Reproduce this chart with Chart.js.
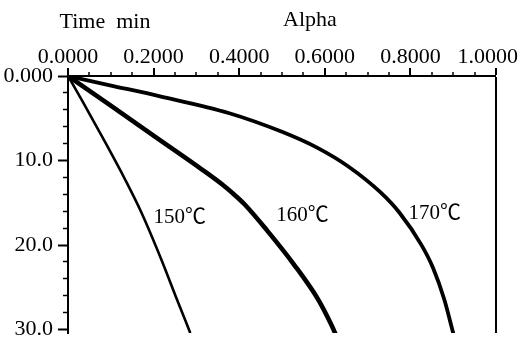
<!DOCTYPE html>
<html>
<head>
<meta charset="utf-8">
<script src="https://cdn.jsdelivr.net/npm/chart.js@4.4.1/dist/chart.umd.min.js"></script>
<style>
  html, body { margin: 0; padding: 0; background: #fff; }
  #wrap { width: 519px; height: 343px; }
</style>
</head>
<body>
<div id="wrap"><canvas id="c" width="519" height="343"></canvas></div>
<script>
// ---- data ----
const seriesNames = ['150℃', '160℃', '170℃'];

const time150  = [0, 3.0, 7.2, 12.3, 16.2, 21.7, 26.1, 30.3];
const alpha150 = [0, 0.034, 0.080, 0.134, 0.172, 0.218, 0.252, 0.285];

const time160  = [0, 3.5, 7.2, 11.1, 12.9, 14.1, 15.2, 18.2, 22.3, 26.4, 29.4, 30.4];
const alpha160 = [0, 0.100, 0.204, 0.314, 0.362, 0.390, 0.413, 0.464, 0.528, 0.584, 0.615, 0.624];

const time170  = [0, 1.1, 2.4, 4.4, 6.6, 8.5, 10.7, 13.8, 16.2, 20.0, 22.7, 26.4, 30.4];
const alpha170 = [0, 0.098, 0.215, 0.377, 0.500, 0.583, 0.655, 0.731, 0.775, 0.826, 0.853, 0.879, 0.900];

// curve label anchors (alpha, time)
const labelAlpha = [0.261, 0.548, 0.857];
const labelTime  = [16.7, 16.5, 16.3];

// axis tick labels
const xMajorTicks = [0, 0.2, 0.4, 0.6, 0.8, 1.0];
const xTickLabels = ['0.0000', '0.2000', '0.4000', '0.6000', '0.8000', '1.0000   '];
const yMajorTicks = [0, 10, 20, 30];
const yTickLabels = ['0.000', '10.0', '20.0', '30.0'];

const xTitle = 'Alpha';
const yTitle = 'Time  min';

// ---- build ----
const toPts = (a, t) => a.map((v, i) => ({ x: v, y: t[i] }));
const FONT = "'Liberation Serif', 'Noto Sans CJK JP', serif";
const FS = 22;

function majorIndex(list, v) {
  for (let i = 0; i < list.length; i++) if (Math.abs(list[i] - v) < 1e-6) return i;
  return -1;
}

const textPlugin = {
  id: 'texts',
  afterDraw(chart) {
    const ctx = chart.ctx;
    const xs = chart.scales.x, ys = chart.scales.y;
    ctx.save();
    ctx.fillStyle = '#000';
    ctx.font = (FS - 1) + 'px ' + FONT;
    ctx.textAlign = 'center';
    ctx.textBaseline = 'middle';
    for (let i = 0; i < seriesNames.length; i++) {
      ctx.fillText(seriesNames[i], xs.getPixelForValue(labelAlpha[i]), ys.getPixelForValue(labelTime[i]));
    }
    // axis titles
    ctx.font = FS + 'px ' + FONT;
    ctx.fillText(yTitle, 105, 22);
    ctx.fillText(xTitle, 310, 20);
    ctx.restore();
  }
};

const minorDash = (tl, minor) => (c) =>
  (c.tick && c.tick.major) ? [] : [minor, tl - minor];

new Chart(document.getElementById('c'), {
  type: 'line',
  data: {
    datasets: [
      { label: seriesNames[0], data: toPts(alpha150, time150), borderColor: '#000', borderWidth: 2.6 },
      { label: seriesNames[1], data: toPts(alpha160, time160), borderColor: '#000', borderWidth: 4.6 },
      { label: seriesNames[2], data: toPts(alpha170, time170), borderColor: '#000', borderWidth: 3.8 }
    ]
  },
  options: {
    responsive: false,
    animation: false,
    devicePixelRatio: 1,
    layout: { padding: { left: 0, top: 40, right: 23, bottom: 10 } },
    elements: {
      point: { radius: 0 },
      line: { cubicInterpolationMode: 'monotone', fill: false, borderCapStyle: 'round' }
    },
    plugins: { legend: { display: false }, tooltip: { enabled: false } },
    scales: {
      x: {
        type: 'linear',
        position: 'top',
        min: 0, max: 1,
        afterBuildTicks(s) {
          s.ticks.forEach(t => { t.major = majorIndex(xMajorTicks, t.value) >= 0; });
        },
        afterFit(s) { s.height = 36; s.paddingLeft = 0; s.paddingRight = 0; },
        border: { display: true, color: '#000', width: 2 },
        grid: {
          drawOnChartArea: true,
          drawTicks: true,
          tickLength: 8,
          color: (c) => (c.tick && Math.abs(c.tick.value - 1) < 1e-6) ? '#000' : 'rgba(0,0,0,0)',
          lineWidth: (c) => (c.tick && Math.abs(c.tick.value - 1) < 1e-6) ? 2 : 0,
          tickColor: '#000',
          tickWidth: (c) => (c.tick && c.tick.major) ? 2 : 1.5,
          tickBorderDash: minorDash(8, 4),
          tickBorderDashOffset: 4
        },
        ticks: {
          stepSize: 0.05,
          autoSkip: false,
          maxRotation: 0,
          minRotation: 0,
          padding: -2,
          color: '#000',
          font: { family: FONT, size: FS },
          callback(v) {
            const i = majorIndex(xMajorTicks, v);
            return i >= 0 ? xTickLabels[i] : '';
          }
        }
      },
      y: {
        type: 'linear',
        position: 'left',
        reverse: true,
        min: 0, max: 30.4,
        afterBuildTicks(s) {
          s.ticks = s.ticks.filter(t => Math.abs(t.value / 2 - Math.round(t.value / 2)) < 1e-6 && t.value <= 30 + 1e-6);
          s.ticks.forEach(t => { t.major = majorIndex(yMajorTicks, t.value) >= 0; });
        },
        afterFit(s) { s.width = 68; s.paddingTop = 0; s.paddingBottom = 0; },
        border: { display: true, color: '#000', width: 2 },
        grid: {
          drawOnChartArea: false,
          drawTicks: true,
          tickLength: 10,
          tickColor: '#000',
          tickWidth: (c) => (c.tick && c.tick.major) ? 2 : 1.5,
          tickBorderDash: minorDash(10, 5),
          tickBorderDashOffset: 5
        },
        ticks: {
          stepSize: 2,
          includeBounds: false,
          autoSkip: false,
          padding: 5,
          color: '#000',
          font: { family: FONT, size: FS },
          callback(v) {
            const i = majorIndex(yMajorTicks, v);
            return i >= 0 ? yTickLabels[i] : '';
          }
        }
      }
    }
  },
  plugins: [textPlugin]
});
</script>
</body>
</html>
